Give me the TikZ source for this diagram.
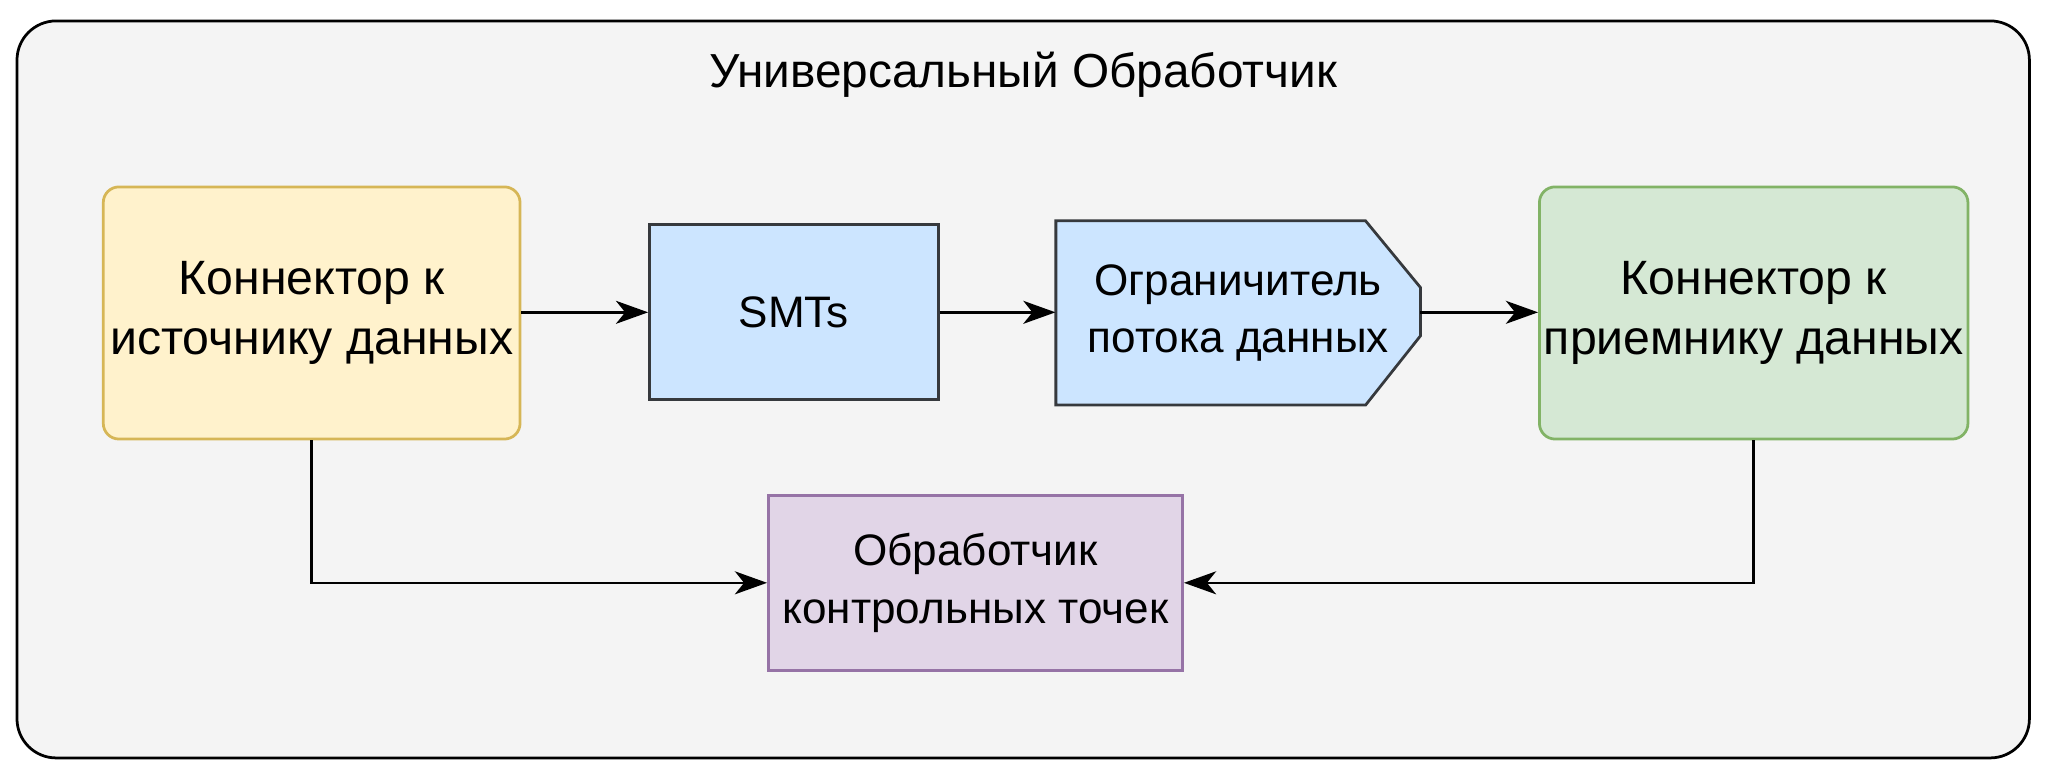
\documentclass[tikz,border=0pt]{standalone}
\usepackage{fontspec}
\setmainfont{Liberation Sans}
\usetikzlibrary{arrows.meta}
\definecolor{bgc}{HTML}{F4F4F4}
\definecolor{yf}{HTML}{FFF2CC}\definecolor{yd}{HTML}{D6B656}
\definecolor{bf}{HTML}{CCE5FF}\definecolor{bd}{HTML}{36393D}
\definecolor{gf}{HTML}{D5E8D4}\definecolor{gd}{HTML}{82B366}
\definecolor{pf}{HTML}{E1D5E7}\definecolor{pd}{HTML}{9673A6}
\begin{document}
\begin{tikzpicture}[x=0.02cm,y=-0.02cm,
  box/.style={draw,line width=1.2pt,align=center,inner sep=0pt},
  arr/.style={line width=1.1pt,-{Stealth[length=14pt,width=10pt,inset=4pt]}},
  big/.style={font=\fontsize{21pt}{26.5pt}\selectfont},
  small/.style={font=\fontsize{19.2pt}{25pt}\selectfont}]
\useasboundingbox (0,0) rectangle (1568,592);
\draw[fill=bgc,line width=1.2pt,rounded corners=0.6cm] (13,16) rectangle (1553,580);
\node[font=\fontsize{20.8pt}{25pt}\selectfont] (title) at (783,57) {Универсальный Обработчик};
\node[box,big,fill=yf,draw=yd,rounded corners=0.24cm,minimum width=6.38cm,minimum height=3.86cm] (src) at (238.5,239.5) {Коннектор к\\источнику данных};
\node[box,small,fill=bf,draw=bd,minimum width=4.42cm,minimum height=2.68cm] (smt) at (607.5,239) {SMTs};
\draw[fill=bf,draw=bd,line width=1.2pt] (808,169) -- (1045,169) -- (1087,220) -- (1087,257) -- (1045,310) -- (808,310) -- cycle;
\node[small,align=center,minimum width=5.58cm,minimum height=2.82cm,inner sep=0pt] (lim) at (947.5,239.5) {Ограничитель\\потока данных};
\node[box,big,fill=gf,draw=gd,rounded corners=0.24cm,minimum width=6.56cm,minimum height=3.86cm] (snk) at (1342,239.5) {Коннектор к\\приемнику данных};
\node[box,small,fill=pf,draw=pd,minimum width=6.34cm,minimum height=2.68cm] (chk) at (746.5,446) {Обработчик\\контрольных точек};
\draw[arr] (src.east|-smt) -- (smt.west);
\draw[arr] (smt.east) -- (lim.west|-smt);
\draw[arr] (1087,239) -- (snk.west|-smt);
\draw[arr] (src.south) |- (chk.west);
\draw[arr] (snk.south) |- (chk.east);
\end{tikzpicture}
\end{document}
